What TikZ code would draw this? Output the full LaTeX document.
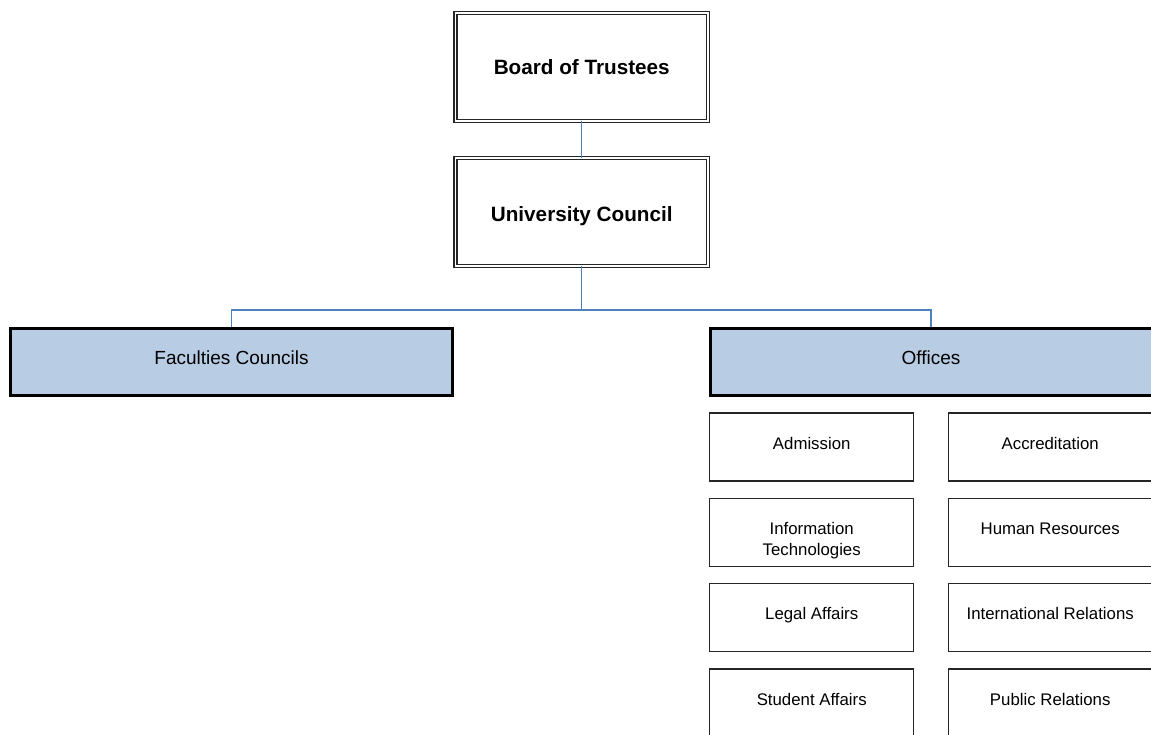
\documentclass[tikz,border=0pt]{standalone}
\usepackage{fontspec}
\setmainfont{Liberation Sans}
\definecolor{linkblue}{HTML}{4F81BD}
\definecolor{headfill}{HTML}{B8CCE4}

\begin{document}
\begin{tikzpicture}[x=1pt,y=-1pt,
  topbox/.style={draw=black!85, double=white, line width=1.4pt, double distance=1.6pt,
    minimum width=252.5pt, minimum height=107.5pt, inner sep=0pt,
    font=\fontsize{20.7}{24}\selectfont\bfseries},
  headbox/.style={draw=black, line width=3pt, fill=headfill,
    minimum width=442pt, minimum height=67.5pt, inner sep=0pt},
  unitbox/.style={draw=black!85, line width=1.3pt, fill=white,
    minimum width=204pt, minimum height=68pt, inner sep=0pt},
  headtext/.style={label={[anchor=north, yshift=-24.5pt, inner sep=0pt,
    font=\fontsize{19}{23}\selectfont]north:{#1}}},
  unittext/.style={label={[anchor=north, yshift=-24.5pt, inner sep=0pt, align=center,
    font=\fontsize{16.8}{21}\selectfont]north:{#1}}},
  link/.style={draw=linkblue, line width=1.1pt}]

\clip (0,0) rectangle (1151,734);

% governing bodies
\node[topbox] (board) at (581.75,67) {Board of Trustees};
\node[topbox] (council) at (581.75,212) {\raisebox{-4pt}[\height][\depth]{University Council}};

% main branches
\node[headbox, headtext={Faculties Councils}] (fac) at (231.5,361.75) {};
\node[headbox, headtext={Offices}] (off) at (931,361.75) {};

% offices
\node[unitbox, unittext={Admission}] (adm) at (811.7,447) {};
\node[unitbox, unittext={Accreditation}] (acc) at (1050.2,447) {};
\node[unitbox, unittext={Information\\Technologies}] (it) at (811.7,532.5) {};
\node[unitbox, unittext={Human Resources}] (hr) at (1050.2,532.5) {};
\node[unitbox, unittext={Legal Affairs}] (legal) at (811.7,617.5) {};
\node[unitbox, unittext={International Relations}] (intl) at (1050.2,617.5) {};
\node[unitbox, unittext={Student Affairs}] (stud) at (811.7,703) {};
\node[unitbox, unittext={Public Relations}] (pr) at (1050.2,703) {};

% connectors
\coordinate (split) at (581.75,310);
\draw[link] (board.south) -- (council.north);
\draw[link] (council.south) -- (split) -| (fac.north);
\draw[link] (split) -| (off.north);
\end{tikzpicture}
\end{document}
